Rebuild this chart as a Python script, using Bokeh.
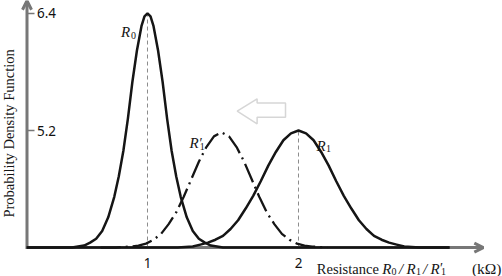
from math import pi
from bokeh.plotting import figure
from bokeh.models import LinearAxis, FixedTicker, Arrow, OpenHead, Label, PolyAnnotation, Range1d
from bokeh.embed import file_html
from bokeh.resources import INLINE

# ---- data ----
r0_x = [0.20, 0.40, 0.50, 0.54, 0.58, 0.62, 0.66, 0.70, 0.74, 0.78,
        0.81, 0.84, 0.87, 0.90, 0.93, 0.96, 0.98, 1.00,
        1.02, 1.04, 1.07, 1.10, 1.13, 1.16, 1.19, 1.22, 1.26, 1.30,
        1.34, 1.38, 1.42, 1.46, 1.50, 1.70, 3.00]
r0_y = [4.00, 4.00, 4.00, 4.01, 4.02, 4.05, 4.09, 4.17, 4.31, 4.52,
        4.73, 4.99, 5.32, 5.70, 6.02, 6.27, 6.37, 6.40,
        6.37, 6.27, 6.02, 5.70, 5.32, 4.99, 4.73, 4.52, 4.31, 4.17,
        4.09, 4.05, 4.02, 4.01, 4.00, 4.00, 4.00]

r1_x = [0.20, 1.20, 1.30, 1.35, 1.40, 1.45, 1.50, 1.55, 1.60, 1.65, 1.70,
        1.75, 1.80, 1.85, 1.90, 1.95, 2.00, 2.05, 2.10, 2.15, 2.20, 2.25,
        2.30, 2.35, 2.40, 2.45, 2.50, 2.55, 2.60, 2.65, 2.70, 2.80, 3.00]
r1_y = [4.00, 4.00, 4.01, 4.03, 4.05, 4.08, 4.12, 4.19, 4.28, 4.40, 4.53,
        4.68, 4.84, 4.98, 5.10, 5.17, 5.20, 5.17, 5.10, 4.98, 4.84, 4.68,
        4.53, 4.40, 4.28, 4.19, 4.12, 4.08, 4.05, 4.03, 4.01, 4.00, 4.00]

r1p_x = [0.69, 0.79, 0.89, 0.94, 0.99, 1.04, 1.09, 1.14, 1.19, 1.24, 1.29,
         1.34, 1.39, 1.44, 1.49, 1.54, 1.59, 1.64, 1.69, 1.74, 1.79, 1.84,
         1.89, 1.94, 1.99, 2.04, 2.09, 2.19]
r1p_y = [4.00, 4.00, 4.01, 4.02, 4.04, 4.08, 4.14, 4.24, 4.36, 4.52, 4.70,
         4.88, 5.03, 5.14, 5.18, 5.14, 5.03, 4.88, 4.70, 4.52, 4.36, 4.24,
         4.14, 4.08, 4.04, 4.02, 4.01, 4.00]

peak_x = [1.0, 2.0]
peak_y = [6.4, 5.2]
baseline = 4.0
x_ticks = [1, 2]
y_ticks = [5.2, 6.4]

# ---- figure ----
AX = "#777777"
INK = "#151515"
p = figure(width=502, height=276,
           x_range=Range1d(0.0265, 3.351), y_range=Range1d(3.703, 6.533),
           x_axis_type=None, y_axis_type=None, min_border=0,
           outline_line_color=None, toolbar_location=None, output_backend="svg")

# axis arrows (drawn under the curves)
p.add_layout(Arrow(x_start=0.202, y_start=3.985, x_end=0.202, y_end=6.53,
                   line_color=AX, line_width=3, level="underlay",
                   end=OpenHead(size=9, line_color=AX, line_width=3)))
p.add_layout(Arrow(x_start=0.195, y_start=baseline, x_end=3.224, y_end=baseline,
                   line_color=AX, line_width=3, level="underlay",
                   end=OpenHead(size=9, line_color=AX, line_width=3)))

yaxis = LinearAxis(fixed_location=0.202, ticker=FixedTicker(ticks=y_ticks))
yaxis.axis_line_color = None
yaxis.major_tick_in = 0
yaxis.major_tick_out = 7
yaxis.major_tick_line_color = AX
yaxis.major_tick_line_width = 1.5
yaxis.minor_tick_line_color = None
yaxis.major_label_standoff = 3
yaxis.major_label_text_font = "Noto Sans"
yaxis.major_label_text_font_size = "13.5px"
yaxis.major_label_text_color = "#111111"
p.add_layout(yaxis, "right")

xaxis = LinearAxis(fixed_location=baseline, ticker=FixedTicker(ticks=x_ticks))
xaxis.axis_line_color = None
xaxis.major_tick_in = 0
xaxis.major_tick_out = 0
xaxis.major_tick_line_color = None
xaxis.minor_tick_line_color = None
xaxis.major_label_standoff = 10
xaxis.major_label_text_font = "Noto Sans"
xaxis.major_label_text_font_size = "13.5px"
xaxis.major_label_text_color = "#111111"
p.add_layout(xaxis, "below")

# peak guide lines
p.segment(x0=peak_x, y0=[baseline] * len(peak_x), x1=peak_x, y1=peak_y,
          line_color="#8c8c8c", line_width=1, line_dash="4 3")

# curves
p.line(r0_x, r0_y, line_color=INK, line_width=2.5)
p.line(r1_x, r1_y, line_color=INK, line_width=2.5)
p.line(r1p_x, r1p_y, line_color=INK, line_width=2.3, line_dash="20 5 2 5")

# hollow shift arrow
p.add_layout(PolyAnnotation(
    xs=[1.594, 1.726, 1.726, 1.914, 1.914, 1.726, 1.726],
    ys=[5.398, 5.525, 5.482, 5.482, 5.336, 5.336, 5.269],
    fill_color="white", fill_alpha=1.0, line_color=AX, line_width=1.5))

SERIF = "Liberation Serif"


def lab(x, y, text, size, italic=False, align="left", **kw):
    p.add_layout(Label(x=x, y=y, text=text, text_font=SERIF,
                       text_font_size=size,
                       text_font_style="italic" if italic else "normal",
                       text_align=align, text_baseline="alphabetic",
                       text_color="#151515", **kw))


# curve labels
lab(0.8245, 6.205, "R", "15px", italic=True)
lab(0.8907, 6.179, "0", "10px")
lab(1.278, 5.067, "R", "15px", italic=True)
lab(1.344, 5.067, "\u2032", "14px")
lab(1.346, 5.031, "1", "10px")
lab(2.119, 5.046, "R", "15px", italic=True)
lab(2.182, 5.015, "1", "10px")

# y axis title
p.add_layout(Label(x=0.0795, y=5.17, text="Probability Density Function",
                   angle=pi / 2, text_align="center", text_baseline="middle",
                   text_font=SERIF, text_font_size="14.5px", text_color="#151515"))

# x axis title pieces
ybl = 3.785
ysub = 3.757
lab(2.532, ybl, "Resistance", "14.5px", align="right")
lab(2.5543, ybl, "R", "15px", italic=True)
lab(2.6159, ysub, "0", "10px")
lab(2.6788, ybl, "/", "15px", italic=True, align="center")
lab(2.7152, ybl, "R", "15px", italic=True)
lab(2.7781, ysub, "1", "10px")
lab(2.8391, ybl, "/", "15px", italic=True, align="center")
lab(2.8742, ybl, "R", "15px", italic=True)
lab(2.9371, ybl, "\u2032", "14px")
lab(2.9437, ysub, "1", "10px")
lab(3.3444, ybl, "(k\u03a9)", "15.5px", align="right")

open("out.html", "w").write(file_html(p, INLINE))
